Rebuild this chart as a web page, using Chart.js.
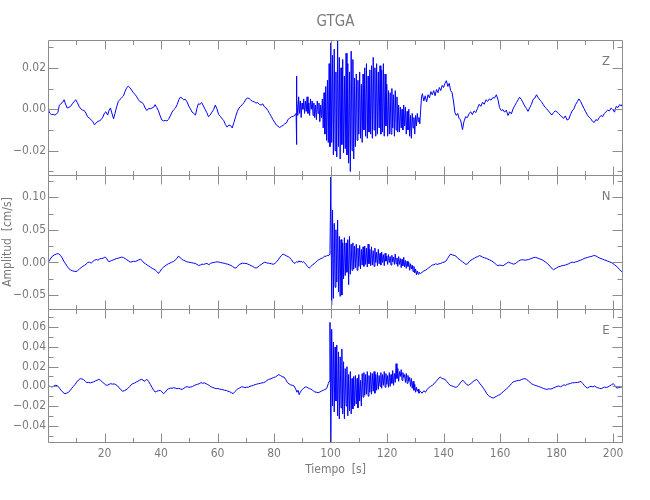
<!DOCTYPE html>
<html>
<head>
<meta charset="utf-8">
<title>GTGA</title>
<script src="https://cdn.jsdelivr.net/npm/chart.js@4"></script>
<style>
  html,body{margin:0;padding:0;background:#fff}
  #wrap{position:relative;width:650px;height:500px}
  #wrap canvas{position:absolute;left:0;top:0}
</style>
</head>
<body>
<div id="wrap">
  <canvas id="cZ" width="650" height="500"></canvas>
  <canvas id="cN" width="650" height="500"></canvas>
  <canvas id="cE" width="650" height="500"></canvas>
</div>
<script>
(function () {
  'use strict';

  // =============================================================
  // 1. data (time in s, amplitude in units of 0.001 cm/s)
  // =============================================================
  var UNIT = 0.001;
  var TIME_MIN = 0, TIME_MAX = 203.5;
  var X_LABELS = [20, 40, 60, 80, 100, 120, 140, 160, 180, 200];
  var X_MINOR = [10, 30, 50, 70, 90, 110, 130, 150, 170, 190];
  var BURST_DT = 0.3;

  // --- Z ---
  var Z_PRE = [[0,0.3],[0.6,-1.8],[1.2,-2.6],[1.8,-2.4],[2.4,-2.8],[3.0,-2.3],[3.5,-1.5],[4.0,1.8],[4.6,2.8],[5.2,3.4],[5.7,4.6],[6.2,2.5],[6.8,0.6],[7.4,0.9],[8.0,1.4],[8.6,2.6],[9.2,3.6],[9.8,4.6],[10.4,3.2],[11.0,1.4],[11.6,0.2],[12.2,-0.4],[12.8,-0.6],[13.4,-1.8],[14.0,-3.6],[14.6,-4.2],[15.2,-5.0],[15.8,-5.8],[16.4,-7.4],[17.0,-6.8],[17.6,-5.8],[18.2,-5.6],[18.8,-5.0],[19.4,-3.8],[20.0,-1.8],[20.5,-1.2],[21.1,-2.8],[21.6,-0.6],[22.1,0.6],[22.6,-1.8],[23.2,-4.6],[23.7,-2.0],[24.3,1.2],[24.9,3.8],[25.5,4.8],[26.1,5.6],[26.7,6.4],[27.2,8.4],[27.8,10.2],[28.4,11.2],[29.0,10.4],[29.6,9.2],[30.2,8.0],[30.8,7.2],[31.4,6.0],[32.0,4.6],[32.6,3.6],[33.2,3.4],[33.8,2.4],[34.4,0.6],[35.0,-0.6],[35.6,0.4],[36.2,0.2],[36.8,0.6],[37.4,1.0],[37.9,2.2],[38.5,0.8],[39.1,-0.8],[39.7,-3.2],[40.3,-5.2],[40.9,-5.6],[41.5,-5.4],[42.1,-5.6],[42.7,-4.8],[43.3,-3.2],[43.9,-1.4],[44.5,-0.2],[45.1,0.6],[45.7,2.2],[46.3,4.6],[46.8,5.8],[47.4,5.4],[48.0,4.6],[48.6,4.8],[49.2,3.6],[49.8,1.6],[50.4,0.2],[51.0,-1.4],[51.6,-2.0],[52.2,-2.8],[52.7,0.4],[53.2,2.6],[53.8,2.4],[54.4,3.2],[55.0,1.6],[55.6,0.0],[56.2,-1.6],[56.8,-3.6],[57.4,-2.8],[58.0,-1.4],[58.6,-0.2],[59.2,2.0],[59.8,0.2],[60.4,-2.6],[61.0,-3.4],[61.6,-4.6],[62.2,-5.4],[62.8,-7.4],[63.4,-8.6],[64.0,-7.6],[64.6,-7.8],[65.2,-9.0],[65.8,-6.4],[66.4,-3.6],[67.0,-1.0],[67.6,0.6],[68.2,1.4],[68.8,2.4],[69.4,3.2],[70.0,4.8],[70.6,5.4],[71.2,5.2],[71.8,4.4],[72.4,3.8],[73.0,3.6],[73.6,3.0],[74.2,3.2],[74.8,2.4],[75.4,2.0],[76.0,2.6],[76.6,1.2],[77.2,0.6],[77.8,-0.6],[78.4,-2.0],[79.0,-3.4],[79.6,-5.0],[80.2,-6.2],[80.8,-7.6],[81.4,-8.2],[82.0,-8.8],[82.6,-8.2],[83.2,-7.8],[83.8,-7.0],[84.4,-6.6],[85.0,-4.8],[85.6,-4.2],[86.2,-3.6],[86.8,-3.4],[87.4,-2.8],[87.8,-2.0],[87.9,16.0],[88.0,-17.0]];
  var Z_BURST_T0 = 88.1;
  var Z_BURST = [
    5,-3,6,-2,4,-4,3,0,5,-2,
    4,-1,6,-2,3,-3,5,0,4,-3,
    3,-4,2,-5,4,-2,3,-6,2,-4,
    5,-9,8,-12,11,-15,14,-16,22,-18,
    32,-16,26,-22,29,-20,18,-23,33,-18,
    25,-24,20,-17,24,-21,16,-19,27,-22,
    22,-26,18,-30,28,-20,24,-24,15,-18,
    17,-15,14,-12,18,-14,12,-16,17,-10,
    20,-13,22,-14,16,-11,19,-12,21,-14,
    25,-10,20,-13,22,-12,18,-9,21,-12,
    19,-11,22,-13,17,-8,12,-13,9,-12,
    8,-12,10,-9,7,-13,9,-10,6,-11,
    2,-11,1,-9,0,-10,2,-8,1,-12,
    -1,-10,0,-13,-3,-14,-2,-9,-4,-12,
    -3,-8,-2,-6,-4,-7,0,6
  ];
  var Z_POST = [[132.5,7.5],[133.0,4.0],[133.5,6.5],[134.0,3.5],[134.5,7.0],[135.0,5.5],[135.5,8.5],[136.0,7.0],[136.5,9.0],[137.0,6.5],[137.5,9.5],[138.0,8.0],[138.5,10.5],[139.0,9.0],[139.5,11.5],[140.0,10.5],[140.5,12.5],[141.0,13.8],[141.5,11.0],[142.0,12.5],[142.5,9.0],[143.0,8.0],[143.5,4.0],[144.0,-1.5],[144.5,-3.0],[145.0,-2.0],[145.5,-4.5],[146.0,-5.0],[146.7,-9.8],[147.2,-6.0],[147.8,-3.6],[148.4,-4.0],[149.0,-2.2],[149.6,-1.2],[150.2,-2.6],[150.8,-0.8],[151.4,-1.6],[152.0,0.4],[152.6,2.4],[153.2,1.4],[153.8,3.4],[154.4,2.4],[155.0,4.6],[155.6,3.8],[156.2,5.0],[156.8,4.4],[157.4,5.6],[158.0,5.4],[158.7,7.0],[159.3,4.4],[159.8,0.8],[160.4,-0.6],[161.0,-0.2],[161.6,-1.4],[162.2,-0.4],[162.8,-3.0],[163.4,-1.2],[164.0,-2.2],[164.6,0.2],[165.2,1.8],[165.8,3.2],[166.4,4.6],[166.9,5.8],[167.5,4.8],[168.1,3.2],[168.7,1.6],[169.3,0.4],[169.9,-1.0],[170.5,0.8],[171.1,2.4],[171.7,4.8],[172.3,5.4],[172.9,7.0],[173.5,5.6],[174.1,4.4],[174.7,3.6],[175.3,2.2],[175.9,1.0],[176.5,0.2],[177.1,-0.8],[177.7,-1.8],[178.3,-2.8],[178.9,-1.6],[179.5,-0.8],[180.1,-1.2],[180.7,-2.0],[181.3,-3.0],[181.9,-3.6],[182.5,-4.4],[183.1,-3.2],[183.7,-5.2],[184.3,-4.8],[184.9,-2.6],[185.5,-0.8],[186.1,0.2],[186.7,2.2],[187.3,3.6],[187.9,5.0],[188.5,3.8],[189.1,2.0],[189.7,0.4],[190.3,-1.2],[190.9,-2.8],[191.5,-3.8],[192.1,-4.6],[192.7,-5.8],[193.3,-6.4],[193.9,-5.0],[194.5,-5.4],[195.1,-4.0],[195.7,-3.0],[196.3,-3.6],[196.9,-2.0],[197.5,-1.2],[198.1,-0.4],[198.7,-0.8],[199.3,0.6],[199.9,-0.2],[200.5,-1.4],[201.1,1.4],[201.7,0.8],[202.3,2.2],[202.9,1.6],[203.5,3.0]];

  // --- N ---
  var N_PRE = [[0,0],[0.8,5],[1.5,9.5],[2.2,11.5],[3.0,13],[3.7,13.5],[4.4,11],[5.0,7],[5.6,2],[6.2,-2],[6.8,-6],[7.4,-9.5],[8.0,-11.5],[8.7,-12.8],[9.3,-13.5],[9.9,-14],[10.5,-12.5],[11.1,-10],[11.7,-8],[12.3,-6],[12.9,-4.5],[13.5,-2.5],[14.1,0],[14.7,0.5],[15.3,-1],[15.9,1.5],[16.5,3.5],[17.1,4.5],[17.7,3.5],[18.3,5.5],[18.9,6],[19.5,6.5],[20.1,8.2],[20.7,6.5],[21.3,2],[21.9,1.5],[22.5,3],[23.1,4],[23.7,5],[24.3,6],[24.9,6.5],[25.5,7.5],[26.1,8.2],[26.7,7.5],[27.3,6],[27.9,4],[28.5,2.5],[29.1,0.5],[29.7,1],[30.3,1.8],[30.9,1.5],[31.5,2.5],[32.1,4],[32.7,5],[33.3,3],[33.9,-0.5],[34.5,-2],[35.1,-4],[35.7,-5.5],[36.3,-7.5],[36.9,-9],[37.5,-10.5],[38.1,-12],[38.7,-14.5],[39.1,-16.8],[39.6,-14],[40.2,-10],[40.8,-7.5],[41.4,-5.5],[42.0,-3.5],[42.6,-2],[43.2,-1],[43.8,0.5],[44.4,1.5],[45.0,3.5],[45.6,6],[46.1,9.5],[46.7,8],[47.3,5],[47.9,3.5],[48.5,2.5],[49.1,1],[49.7,0.5],[50.3,0],[50.9,-0.5],[51.5,-1],[52.1,-1.5],[52.7,-3],[53.3,-4.5],[53.9,-4],[54.5,-2.5],[55.1,-3],[55.7,-2],[56.3,-1.5],[56.9,-3.5],[57.5,-1.5],[58.1,-0.5],[58.7,0],[59.3,0.5],[59.9,1],[60.5,0.5],[61.1,0],[61.7,-0.8],[62.3,-1],[62.9,-2],[63.5,-2.5],[64.1,-3.5],[64.7,-4.5],[65.3,-6],[65.9,-8],[66.5,-8.5],[67.1,-6],[67.7,-3],[68.3,-2],[68.9,-1],[69.5,-1.5],[70.1,-1.5],[70.7,-2.5],[71.3,-3.5],[71.9,-5],[72.5,-6],[73.1,-8],[73.7,-8.5],[74.3,-7],[74.9,-4.5],[75.5,-3],[76.1,-1],[76.7,0.5],[77.3,-0.5],[77.9,-1],[78.5,-1.5],[79.1,-2],[79.7,-2.8],[80.3,-1.5],[80.9,1],[81.5,4],[82.1,8],[82.7,11],[83.2,12.8],[83.8,11.5],[84.4,10],[85.0,9],[85.6,7],[86.2,4],[86.8,0],[87.4,-1.5],[88.0,1.5],[88.4,0],[88.8,2.5],[89.2,0.5],[89.6,2],[90.0,0],[90.4,1.5],[90.8,-0.5],[91.3,-3],[91.8,-6],[92.4,-8.7],[93.0,-6.5],[93.6,-3.5],[94.2,-2],[94.8,0.5],[95.4,3],[96.0,4.5],[96.6,6],[97.2,7],[97.6,8.5],[98.0,10],[98.4,9],[98.8,11],[99.2,10],[99.5,12]];
  var N_BURST_T0 = 99.8;
  var N_BURST = [
    20,131,-65,80,-55,60,-38,50,-30,65,
    -45,40,-52,35,-50,30,-25,38,-20,30,
    -15,35,-34,40,-18,28,-12,30,-10,25,
    -8,28,-12,22,-6,26,-10,20,-4,24,
    -6,25,-3,22,-7,28,-2,20,-5,24,
    -4,18,-6,22,0,16,-5,20,-2,14,
    -4,16,0,12,-5,14,2,10,-3,12,
    0,9,-4,11,1,8,-3,13,-2,7,
    -6,9,-3,6,-8,5,-5,8,-7,3,
    -9,2,-6,0,-12,-2,-10,-4,-14,-6,
    -16,-10,-19,-13,-18,-15
  ];
  var N_POST = [[131.8,-17],[132.4,-15],[133.0,-13],[133.6,-12],[134.2,-10],[134.8,-8],[135.4,-6],[136.0,-4],[136.6,-3.5],[137.2,-2],[137.8,-3],[138.4,-2],[139.0,-1.5],[139.6,0],[140.2,0.5],[140.8,2],[141.4,6],[142.0,10],[142.5,13],[143.1,11.5],[143.7,11],[144.3,10],[144.9,7],[145.5,5],[146.1,3],[146.7,1],[147.3,-1],[147.9,-3],[148.5,-2],[149.1,1.5],[149.7,3.5],[150.3,5],[150.9,6.5],[151.5,8],[152.1,9],[152.7,10.5],[153.3,9.5],[153.9,8],[154.5,7],[155.1,6.5],[155.7,5],[156.3,4],[156.9,2.5],[157.5,1],[158.1,-1],[158.7,-3.5],[159.3,-5],[159.9,-4],[160.5,-4.5],[161.1,-5],[161.7,-3],[162.3,-1.5],[162.9,0.5],[163.5,-0.5],[164.1,-1.5],[164.7,-2.5],[165.3,-2],[165.9,0],[166.5,2],[167.1,3.5],[167.7,4.2],[168.3,4],[168.9,3.5],[169.5,4],[170.1,4.5],[170.7,5.5],[171.3,6.5],[171.9,7.5],[172.5,7.8],[173.1,7],[173.7,6],[174.3,5],[174.9,4],[175.5,2.5],[176.1,0.5],[176.7,-1.5],[177.3,-4],[177.9,-7],[178.5,-10],[178.9,-11.2],[179.5,-9.5],[180.1,-8],[180.7,-6.5],[181.3,-6],[181.9,-5],[182.5,-4.5],[183.1,-4],[183.7,-3],[184.3,-2],[184.9,-0.5],[185.5,0.5],[186.1,0],[186.7,0.8],[187.3,1.5],[187.9,2.5],[188.5,3.5],[189.1,4.5],[189.7,6],[190.3,7],[190.9,7.5],[191.5,8.5],[192.1,9],[192.7,9.8],[193.3,10.7],[193.9,10],[194.5,8.5],[195.1,7],[195.7,6],[196.3,5],[196.9,4],[197.5,3],[198.1,2],[198.7,1],[199.3,0],[199.9,-1.5],[200.5,-3.5],[201.1,-5.5],[201.7,-8],[202.3,-11],[202.9,-13.8],[203.5,-12.5]];

  // --- E ---
  var E_PRE = [[0,0.3],[0.7,0],[1.4,-0.7],[2.1,0.3],[2.8,1.2],[3.5,0.2],[4.2,-2.4],[4.8,-4.5],[5.4,-6.5],[6.0,-7.5],[6.6,-7],[7.2,-6],[7.8,-4.5],[8.4,-2],[9.0,0],[9.6,2],[10.2,4.5],[10.8,6.5],[11.4,7.8],[12.0,7.5],[12.6,6.8],[13.2,5],[13.8,3.7],[14.4,4],[15.0,3.5],[15.6,4],[16.2,4.6],[16.8,5.5],[17.4,6.2],[18.0,7.2],[18.6,6],[19.2,4.4],[19.8,3],[20.4,1.5],[21.0,1],[21.6,2],[22.2,2.7],[22.8,2.2],[23.4,2.5],[24.0,1.7],[24.6,0.5],[25.2,-1.5],[25.8,-3.5],[26.4,-5],[27.0,-4.5],[27.6,-3.5],[28.2,-2.4],[28.8,-0.5],[29.4,1.5],[30.0,2.7],[30.6,3.2],[31.2,4.4],[31.8,5.2],[32.4,6.2],[33.0,7.1],[33.6,6.5],[34.0,5.1],[34.5,6],[35.0,7.1],[35.6,5],[36.2,2],[36.8,-1],[37.4,-4],[37.9,-5.8],[38.5,-5],[39.1,-4.5],[39.7,-4.1],[40.3,-5.5],[40.9,-7.5],[41.5,-6],[42.1,-3.5],[42.7,-2.4],[43.3,-1.8],[43.9,-2],[44.5,-1.5],[45.1,-1.8],[45.7,-2.4],[46.3,-2],[46.9,-2.8],[47.5,-3.1],[48.1,-2],[48.7,-0.7],[49.3,-0.4],[49.9,-1],[50.5,-0.7],[51.1,-0.3],[51.7,0.8],[52.3,1.5],[52.9,2],[53.5,2.6],[54.1,3.7],[54.7,3.2],[55.3,3.5],[55.9,2.7],[56.5,1.8],[57.1,0.8],[57.7,-0.5],[58.3,-1.2],[58.9,-1.8],[59.5,-2.4],[60.1,-2.2],[60.7,-2.8],[61.3,-3.1],[61.9,-3.5],[62.5,-4],[63.1,-4.2],[63.7,-5],[64.3,-5.5],[64.9,-6.5],[65.5,-7.5],[66.1,-5.5],[66.7,-3.8],[67.3,-2.4],[67.9,-1.5],[68.5,-0.5],[69.1,-0.7],[69.7,-1.5],[70.3,-0.8],[70.9,-1],[71.5,0],[72.1,0.5],[72.7,1],[73.3,1.8],[73.9,2.2],[74.5,2.7],[75.1,3],[75.7,3.5],[76.3,3.7],[76.9,4.5],[77.5,6],[78.1,7.1],[78.7,7.5],[79.3,8.2],[79.9,9],[80.5,9.5],[81.1,10.8],[81.7,11.9],[82.3,11],[82.9,9.8],[83.5,9.5],[84.1,7],[84.7,4],[85.3,2.5],[85.9,1.5],[86.5,1],[87.1,0.3],[87.7,-3],[88.1,-6],[88.5,-4],[88.9,-8.5],[89.3,-6],[89.7,-4],[90.1,-3],[90.5,-2],[91.0,-0.8],[91.5,-0.7],[92.0,-1.5],[92.5,-2.4],[93.0,-2.8],[93.5,-3.5],[94.0,-5],[94.5,-5.8],[95.0,-6],[95.6,-6.4],[96.2,-5.8],[96.8,-4.8],[97.4,-4.1],[98.0,-3.2],[98.6,-2.4],[99.2,2.7]];
  var E_BURST_T0 = 99.5;
  var E_BURST = [
    5,65,-57,58,-20,45,-26,40,-15,42,
    -30,35,-33,30,-22,38,-28,25,-33,18,
    -20,20,-30,12,-25,15,-28,8,-23,10,
    -20,11,-18,8,-22,12,-15,6,-20,13,
    -11,14,-9,12,-8,15,-10,11,-6,14,
    -8,13,-5,15,-7,12,-4,14,-3,11,
    0,14,-2,12,1,15,-1,13,2,11,
    -1,14,0,12,3,16,1,13,4,23,
    8,18,5,15,10,17,6,14,9,12,
    4,13,3,11,5,9,0,8,-2,5,
    -4,2,-6,-1,-5,-3,-7
  ];
  var E_POST = [[131.8,-5],[132.4,-7],[133.0,-4.5],[133.6,-6],[134.2,-3],[134.8,-1.5],[135.4,0],[136.0,1],[136.6,2.5],[137.2,4.5],[137.8,6.5],[138.4,8.5],[138.8,9.5],[139.4,8],[140.0,7.5],[140.5,7.1],[141.1,5],[141.7,3],[142.3,1],[142.9,0.5],[143.5,-0.2],[144.1,-1],[144.7,-0.7],[145.3,1],[145.9,3.5],[146.5,5.5],[146.9,6.1],[147.5,4],[148.1,2],[148.7,1],[149.3,2],[149.9,3.5],[150.5,5],[151.1,6],[151.7,7.1],[152.3,5],[152.9,2.5],[153.5,0.5],[154.1,-2],[154.7,-4.5],[155.3,-7.5],[155.9,-9.5],[156.5,-10.5],[157.1,-11.5],[157.6,-11.9],[158.2,-11],[158.8,-10],[159.4,-9],[159.9,-8.5],[160.5,-7],[161.1,-5.5],[161.7,-4],[162.3,-2.4],[162.9,-1],[163.5,1],[164.1,3],[164.6,4.4],[165.2,5],[165.8,5.5],[166.4,6],[167.0,6.1],[167.6,7],[168.2,7.5],[168.8,7.8],[169.4,7],[170.0,5.5],[170.6,4],[171.2,2.5],[171.8,1.7],[172.4,1],[173.0,0.5],[173.6,-0.2],[174.2,-0.7],[174.8,-1.5],[175.4,-2.2],[176.0,-2.8],[176.6,-3.1],[177.2,-2.5],[177.8,-2.8],[178.4,-2.4],[179.0,-1.5],[179.6,-0.8],[180.2,0],[180.8,0.3],[181.4,-0.5],[182.0,0.5],[182.6,1.5],[183.2,1],[183.8,2],[184.4,2.5],[185.0,3],[185.6,3.7],[186.2,3.5],[186.8,4],[187.4,3.8],[188.0,4.4],[188.6,5],[189.2,3],[189.8,1],[190.4,-1],[191.0,-1.7],[191.6,-0.5],[192.2,0],[192.8,-0.5],[193.4,0.3],[194.0,-0.8],[194.6,-1.5],[195.2,-2],[195.8,-2.4],[196.4,-1.5],[197.0,-0.8],[197.6,-1.2],[198.2,-0.7],[198.8,0.5],[199.4,1.5],[200.0,2.7],[200.6,1],[201.2,-1.7],[201.8,-1.5],[202.4,-0.8],[203.0,-0.7],[203.5,0]];

  // y ranges / ticks (cm/s)
  var Z_RANGE = [-0.0317, 0.0334], Z_TICKS = [-0.02, 0, 0.02], Z_MINOR = [-0.03, -0.01, 0.01, 0.03];
  var N_RANGE = [-0.0713, 0.134], N_TICKS = [-0.05, 0, 0.05, 0.10], N_MINOR = [-0.025, 0.025, 0.075, 0.125];
  var E_RANGE = [-0.0566, 0.0786], E_TICKS = [-0.04, -0.02, 0, 0.02, 0.04, 0.06], E_MINOR = [-0.05, -0.03, -0.01, 0.01, 0.03, 0.05, 0.07];

  // =============================================================
  // 2. helpers
  // =============================================================
  var FONT = '"Liberation Sans Narrow", "DejaVu Sans Condensed", sans-serif';
  var TEXT = '#7a7a7a';
  var LINE = '#8c8c8c';
  var BLUE = '#0000ff';

  function toPoints(pre, burst, t0, post) {
    var out = [];
    pre.forEach(function (p) { out.push({ x: p[0], y: p[1] * UNIT }); });
    burst.forEach(function (v, i) { out.push({ x: t0 + i * BURST_DT, y: v * UNIT }); });
    post.forEach(function (p) { out.push({ x: p[0], y: p[1] * UNIT }); });
    return out;
  }

  function fmt(v) {
    var s = Number(v).toFixed(2);
    return v < 0 ? '\u2212' + s.slice(1) : s;
  }

  // inward ticks on all four sides + frame + component letter
  var frame = {
    id: 'frame',
    afterDraw: function (chart, args, o) {
      var ctx = chart.ctx, a = chart.chartArea;
      var xs = chart.scales.x, ys = chart.scales.y;
      var L = Math.round(a.left) + 0.5, R = Math.round(a.right) - 0.5;
      var T = Math.round(a.top) + 0.5, B = Math.round(a.bottom) + 0.5;
      ctx.save();
      ctx.strokeStyle = LINE;
      ctx.lineWidth = 1;
      ctx.beginPath();
      ctx.moveTo(L, T); ctx.lineTo(R, T); ctx.lineTo(R, B); ctx.lineTo(L, B); ctx.closePath();
      function xt(list, len) {
        list.forEach(function (v) {
          var p = Math.round(xs.getPixelForValue(v)) + 0.5;
          ctx.moveTo(p, T); ctx.lineTo(p, T + len);
          ctx.moveTo(p, B); ctx.lineTo(p, B - len);
        });
      }
      function yt(list, len) {
        list.forEach(function (v) {
          var p = Math.round(ys.getPixelForValue(v)) + 0.5;
          ctx.moveTo(L, p); ctx.lineTo(L + len, p);
          ctx.moveTo(R, p); ctx.lineTo(R - len, p);
        });
      }
      xt(X_LABELS, 9); xt(X_MINOR, 4.5);
      yt(o.major, 10); yt(o.minor, 5);
      ctx.stroke();
      ctx.fillStyle = TEXT;
      ctx.font = '13px ' + FONT;
      ctx.textAlign = 'center';
      ctx.textBaseline = 'middle';
      ctx.fillText(o.letter, 606, T + 21);
      ctx.restore();
    }
  };

  function makeChart(id, points, range, ticks, minor, letter, opt) {
    var xScale = {
      type: 'linear', min: TIME_MIN, max: TIME_MAX,
      display: !!opt.showX,
      grid: { display: false, drawTicks: false }, border: { display: false },
      ticks: { color: TEXT, font: { family: FONT, size: 12 }, padding: 5, maxRotation: 0, autoSkip: false,
        callback: function (v) { return String(v); } },
      afterBuildTicks: function (s) { s.ticks = X_LABELS.map(function (v) { return { value: v }; }); },
      title: { display: !!opt.showX, text: 'Tiempo  [s]', color: TEXT, font: { family: FONT, size: 12 }, padding: { top: 0, bottom: 23 } }
    };
    if (opt.showX) xScale.afterFit = function (s) { s.height = 58; };

    return new Chart(document.getElementById(id), {
      type: 'line',
      data: { datasets: [{ data: points, borderColor: BLUE, borderWidth: 1, pointRadius: 0, tension: 0, fill: false }] },
      options: {
        responsive: false, animation: false, devicePixelRatio: 1,
        layout: { padding: opt.padding },
        plugins: {
          legend: { display: false }, tooltip: { enabled: false },
          title: opt.title ? { display: true, text: opt.title, color: TEXT, fullSize: false,
            font: { family: FONT, size: 15, weight: 'normal' }, padding: { top: 13, bottom: 9 } } : { display: false },
          frame: { major: ticks, minor: minor, letter: letter }
        },
        scales: {
          x: xScale,
          y: {
            type: 'linear', min: range[0], max: range[1],
            grid: { display: false, drawTicks: false }, border: { display: false },
            ticks: { color: TEXT, font: { family: FONT, size: 12 }, padding: 2, callback: fmt },
            afterBuildTicks: function (s) { s.ticks = ticks.map(function (v) { return { value: v }; }); },
            afterFit: function (s) { s.width = 48; },
            title: opt.yTitle ? { display: true, text: opt.yTitle, color: TEXT, font: { family: FONT, size: 12 }, padding: { top: 1, bottom: 0 } } : { display: false }
          }
        }
      },
      plugins: [frame]
    });
  }

  // =============================================================
  // 3. render
  // =============================================================
  makeChart('cZ', toPoints(Z_PRE, Z_BURST, Z_BURST_T0, Z_POST), Z_RANGE, Z_TICKS, Z_MINOR, 'Z',
    { title: 'GTGA', padding: { left: 0, right: 27, top: 0, bottom: 325 } });
  makeChart('cN', toPoints(N_PRE, N_BURST, N_BURST_T0, N_POST), N_RANGE, N_TICKS, N_MINOR, 'N',
    { yTitle: 'Amplitud  [cm/s]', padding: { left: 0, right: 27, top: 175, bottom: 191 } });
  makeChart('cE', toPoints(E_PRE, E_BURST, E_BURST_T0, E_POST), E_RANGE, E_TICKS, E_MINOR, 'E',
    { showX: true, padding: { left: 0, right: 27, top: 309, bottom: 0 } });
})();
</script>
</body>
</html>
